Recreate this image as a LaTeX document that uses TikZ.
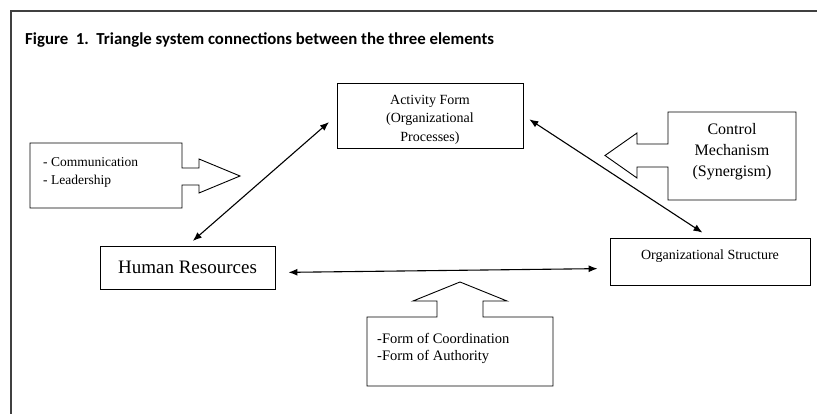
\documentclass[tikz,border=0pt]{standalone}
\usepackage{fontspec}
\setmainfont{Liberation Serif}
\newfontfamily\titlefont{Carlito}
\usetikzlibrary{arrows.meta, positioning}
\tikzset{>={Latex[length=9pt, width=7pt]}}

\begin{document}
\begin{tikzpicture}[x=1pt, y=-1pt,
    box/.style={draw, line width=0.9pt},
    txt/.style={inner sep=0pt},
    link/.style={<->, line width=1.1pt},
    callout/.style={draw, line width=0.9pt, fill=white}]

\useasboundingbox (0,0) rectangle (817,414);

% frame
\draw[line width=1.2pt, black!75] (11,414) -- (11,11) -- (817,11);
\node[txt, anchor=base west, font=\titlefont\bfseries\fontsize{16.8}{20}\selectfont] (title)
    at (25,45) {Figure\ \ 1.\ \ Triangle system connections between the three elements};

% callouts
\draw[callout] (30,143) -- (182,143) -- (182,168) -- (199,168) -- (199,159) -- (240,176)
    -- (199,193) -- (199,185) -- (182,185) -- (182,208) -- (30,208) -- cycle;
\node[txt, anchor=west, align=left, font=\fontsize{13.5}{18.5}\selectfont] (comm)
    at (43,172.5) {- Communication\\- Leadership};

\draw[callout] (668,112) -- (796,112) -- (796,200) -- (668,200) -- (668,167) -- (637,167)
    -- (637,178) -- (605,155.5) -- (637,133) -- (637,144) -- (668,144) -- cycle;
\node[txt, align=center, font=\fontsize{16}{21}\selectfont] (ctrl)
    at (732,152) {Control\\Mechanism\\(Synergism)};

\draw[callout] (367,317) -- (437,317) -- (437,301) -- (413,301) -- (460,282) -- (507,301)
    -- (483,301) -- (483,317) -- (553,317) -- (553,386) -- (367,386) -- cycle;
\node[txt, anchor=west, align=left, font=\fontsize{14.5}{17.5}\selectfont] (coord)
    at (377,348.5) {-Form of Coordination\\-Form of Authority};

% the three elements
\node[box, minimum width=186pt, minimum height=65pt] (act) at (430,115.5) {};
\node[txt, align=center, font=\fontsize{14}{18.5}\selectfont, below=12pt of act.north] (acttxt)
    {Activity Form\\(Organizational\\Processes)};

\node[box, minimum width=175pt, minimum height=43pt, font=\fontsize{19}{22}\selectfont] (hr)
    at (187.5,267.5) {Human Resources};

\node[box, minimum width=200pt, minimum height=47pt] (org) at (710,261.5) {};
\node[txt, font=\fontsize{14}{17}\selectfont, below=12pt of org.north] (orgtxt)
    {Organizational Structure};

% connections
\draw[link, shorten <=7pt, shorten >=10pt] (hr.north) -- (act.west);
\draw[link, shorten <=7pt, shorten >=9pt] (act.east) -- (org.north);
\draw[link, shorten <=13pt, shorten >=12pt] ([yshift=-5pt]hr.east) -- ([yshift=-7pt]org.west);

\end{tikzpicture}
\end{document}
